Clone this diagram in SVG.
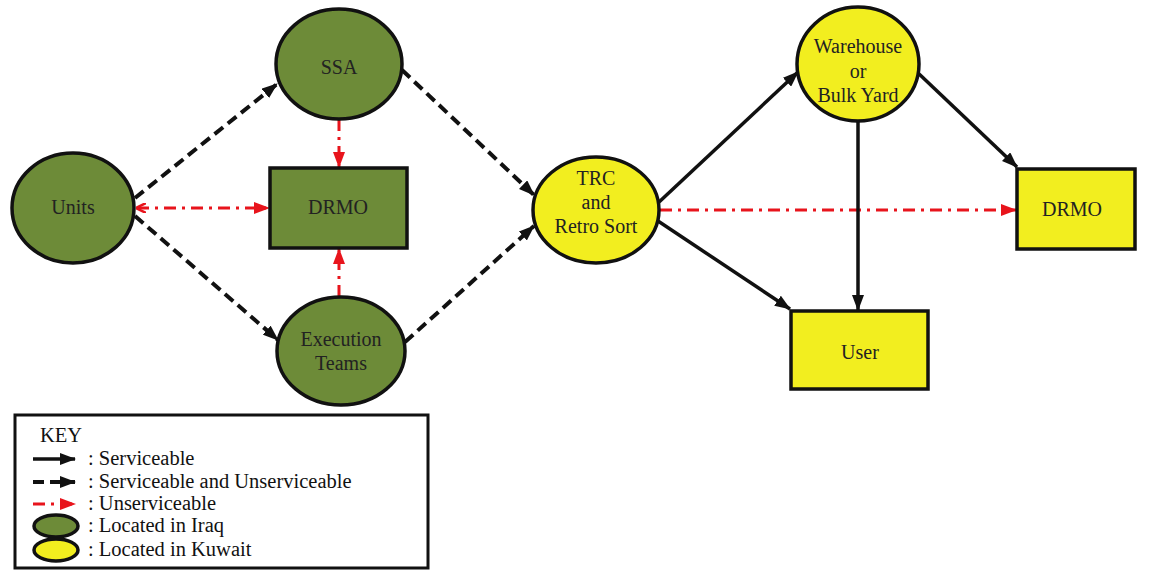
<svg xmlns="http://www.w3.org/2000/svg" width="1150" height="571" viewBox="0 0 1150 571" font-family="Liberation Serif, Times New Roman, DejaVu Serif, serif">
<defs>
<style>
.g{fill:#6d8b38;stroke:#111;stroke-width:3.5}
.y{fill:#f2ee1f;stroke:#111;stroke-width:3.5}
.t{font-size:20px;fill:#222;text-anchor:middle}
.k{font-size:20.5px;fill:#111}
.solid{stroke:#111;stroke-width:3.5;fill:none}
.dash{stroke:#111;stroke-width:4;fill:none;stroke-dasharray:11 6}
.red{stroke:#e8141c;stroke-width:3;fill:none;stroke-dasharray:12 6 3 6}
</style>
<marker id="ab" markerWidth="16" markerHeight="12" refX="15" refY="6" orient="auto" markerUnits="userSpaceOnUse"><path d="M0,0 L16,6 L0,12 Z" fill="#111"/></marker>
<marker id="ar" markerWidth="16" markerHeight="12" refX="15" refY="6" orient="auto" markerUnits="userSpaceOnUse"><path d="M0,0 L16,6 L0,12 Z" fill="#e8141c"/></marker>
<marker id="ars" markerWidth="10" markerHeight="10" refX="1" refY="5" orient="auto" markerUnits="userSpaceOnUse"><path d="M10,0 L0,5 L10,10" fill="none" stroke="#e8141c" stroke-width="2.5"/></marker>
</defs>
<rect width="1150" height="571" fill="#fff"/>
<g id="connectors">
<line class="dash" x1="135" y1="198" x2="277" y2="84" marker-end="url(#ab)"/>
<line class="dash" x1="135" y1="216" x2="278" y2="340" marker-end="url(#ab)"/>
<line class="red" x1="137" y1="208" x2="269" y2="208" marker-start="url(#ars)" marker-end="url(#ar)"/>
<line class="red" x1="339" y1="119" x2="339" y2="167" marker-end="url(#ar)"/>
<line class="red" x1="339" y1="297" x2="339" y2="249" marker-end="url(#ar)"/>
<line class="dash" x1="402" y1="70" x2="534" y2="195" marker-end="url(#ab)"/>
<line class="dash" x1="405" y1="342" x2="534" y2="226" marker-end="url(#ab)"/>
<line class="solid" x1="658" y1="203" x2="798" y2="72" marker-end="url(#ab)"/>
<line class="solid" x1="655" y1="219" x2="790" y2="309" marker-end="url(#ab)"/>
<line class="red" x1="660" y1="210" x2="1016" y2="210" marker-end="url(#ar)"/>
<line class="solid" x1="858" y1="121" x2="858" y2="310" marker-end="url(#ab)"/>
<line class="solid" x1="917" y1="72" x2="1017" y2="167" marker-end="url(#ab)"/>
</g>
<g id="units"><ellipse class="g" cx="73" cy="208" rx="61" ry="55"/><text class="t" x="73" y="214">Units</text></g>
<g id="ssa"><ellipse class="g" cx="339" cy="64" rx="63" ry="55"/><text class="t" x="339" y="74">SSA</text></g>
<g id="drmo-iraq"><rect class="g" x="270" y="168" width="137" height="80"/><text class="t" x="338" y="214">DRMO</text></g>
<g id="execution-teams"><ellipse class="g" cx="341" cy="351" rx="64" ry="54"/><text class="t" x="341" y="346">Execution</text><text class="t" x="341" y="370">Teams</text></g>
<g id="trc"><ellipse class="y" cx="596" cy="210" rx="63" ry="53"/><text class="t" x="596" y="185">TRC</text><text class="t" x="596" y="209">and</text><text class="t" x="596" y="233">Retro Sort</text></g>
<g id="warehouse"><ellipse class="y" cx="858" cy="64" rx="61" ry="57"/><text class="t" x="858" y="53">Warehouse</text><text class="t" x="858" y="78">or</text><text class="t" x="858" y="102">Bulk Yard</text></g>
<g id="drmo-kuwait"><rect class="y" x="1017" y="169" width="118" height="80"/><text class="t" x="1072" y="216">DRMO</text></g>
<g id="user"><rect class="y" x="791" y="311" width="137" height="78"/><text class="t" x="860" y="359">User</text></g>
<g id="key">
<rect x="15" y="415" width="413" height="153" fill="#fff" stroke="#111" stroke-width="3"/>
<text class="k" x="40" y="442">KEY</text>
<line class="solid" x1="33" y1="459" x2="75" y2="459" marker-end="url(#ab)"/>
<text class="k" x="88" y="465">: Serviceable</text>
<line class="dash" x1="33" y1="482" x2="75" y2="482" stroke-dasharray="15 10" marker-end="url(#ab)"/>
<text class="k" x="88" y="488">: Serviceable and Unserviceable</text>
<line class="red" x1="33" y1="504" x2="75" y2="504" stroke-dasharray="12 5 3 5" marker-end="url(#ar)"/>
<text class="k" x="88" y="510">: Unserviceable</text>
<ellipse class="g" cx="56" cy="526" rx="22" ry="11"/>
<text class="k" x="88" y="532">: Located in Iraq</text>
<ellipse class="y" cx="56" cy="550" rx="22" ry="11"/>
<text class="k" x="88" y="556">: Located in Kuwait</text>
</g>
</svg>
